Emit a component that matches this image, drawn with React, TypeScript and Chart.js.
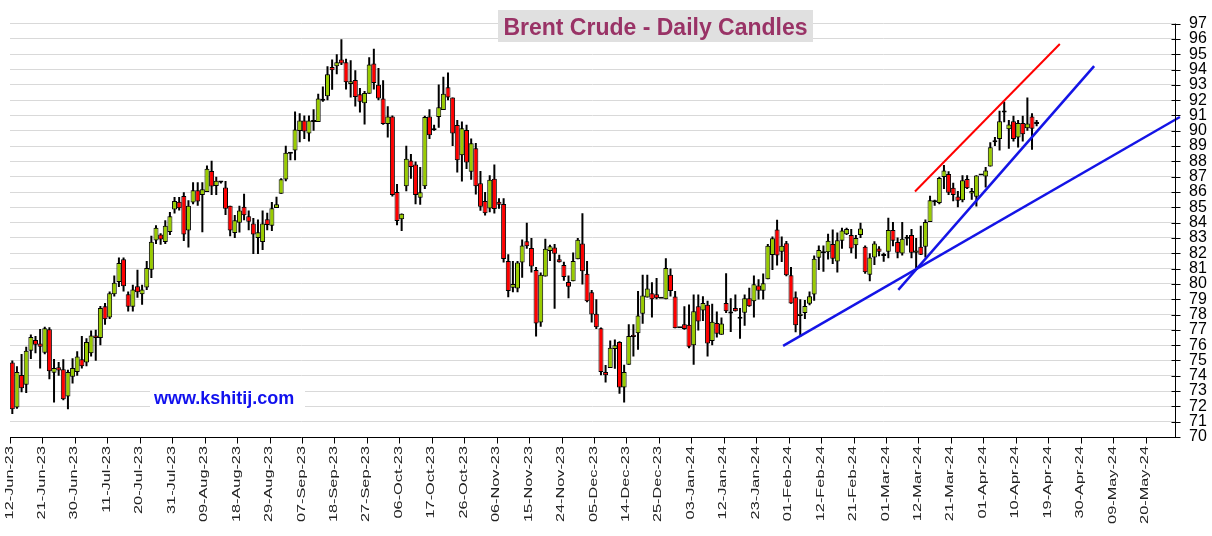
import React, { useEffect, useRef } from "react";
import { Chart, registerables } from "chart.js";

Chart.register(...registerables);

// X-axis labels, one every 7 trading days starting at slot 0
const TICK_LABELS = [
  "12-Jun-23", "21-Jun-23", "30-Jun-23", "11-Jul-23", "20-Jul-23", "31-Jul-23",
  "09-Aug-23", "18-Aug-23", "29-Aug-23", "07-Sep-23", "18-Sep-23", "27-Sep-23",
  "06-Oct-23", "17-Oct-23", "26-Oct-23", "06-Nov-23", "15-Nov-23", "24-Nov-23",
  "05-Dec-23", "14-Dec-23", "25-Dec-23", "03-Jan-24", "12-Jan-24", "23-Jan-24",
  "01-Feb-24", "12-Feb-24", "21-Feb-24", "01-Mar-24", "12-Mar-24", "21-Mar-24",
  "01-Apr-24", "10-Apr-24", "19-Apr-24", "30-Apr-24", "09-May-24", "20-May-24",
];
const TICK_STEP = 7;
const X_MAX = 251.35; // trading-day slots shown on the axis

const OPEN = [
  74.87, 71.93, 74.05, 73.41, 75.64, 76.33, 76.1, 75.5, 77.03, 74.2,
  74.55, 74.43, 72.65, 73.94, 74.24, 75.08, 74.87, 75.47, 76.63, 76.46,
  78.54, 77.8, 79.32, 80.13, 81.61, 79.32, 78.5, 79.85, 79.32, 79.77,
  80.93, 82.84, 83.22, 82.74, 83.39, 84.86, 85.36, 85.74, 83.49, 85.32,
  86.11, 85.8, 86.0, 87.37, 86.39, 86.62, 86.3, 85.1, 83.32, 84.0,
  85.04, 84.42, 83.95, 83.0, 82.74, 84.22, 83.79, 84.96, 85.88, 86.81,
  88.5, 88.72, 89.99, 90.67, 89.82, 90.58, 90.58, 91.96, 92.25, 94.16,
  94.22, 94.65, 94.48, 93.06, 93.31, 92.38, 91.79, 92.42, 94.39, 93.0,
  92.1, 90.45, 90.94, 86.0, 84.22, 86.37, 88.06, 87.79, 85.63, 86.37,
  90.94, 90.03, 90.9, 91.36, 92.85, 92.17, 90.37, 88.4, 90.05, 87.32,
  88.86, 86.58, 85.42, 84.93, 86.86, 85.36, 85.21, 81.5, 79.75, 79.7,
  81.4, 82.78, 82.35, 80.9, 77.48, 80.49, 82.14, 82.37, 81.61, 81.23,
  80.13, 80.17, 81.61, 82.63, 80.66, 79.45, 78.05, 77.1, 74.24, 74.51,
  75.74, 76.2, 73.24, 74.72, 76.67, 76.78, 78.05, 79.11, 79.39, 79.32,
  79.03, 79.0, 80.6, 79.17, 77.1, 77.37, 77.33, 75.99, 78.54, 78.26,
  78.64, 76.27, 77.44, 76.67, 78.75, 78.07, 78.43, 77.73, 78.11, 79.07,
  78.86, 79.9, 79.55, 80.3, 81.89, 83.55, 82.1, 82.66, 80.57, 79.13,
  77.9, 78.1, 78.7, 79.3, 81.7, 82.0, 82.06, 82.6, 81.47, 82.81,
  83.24, 83.2, 82.52, 83.2, 82.42, 80.6, 81.72, 82.31, 81.82, 82.1,
  83.52, 82.73, 81.99, 82.94, 83.2, 82.03, 82.42, 82.42, 84.05, 85.33,
  85.28, 86.98, 87.17, 86.28, 85.7, 85.47, 86.85, 85.9, 85.69, 87.08,
  87.02, 87.66, 89.25, 89.46, 91.2, 90.1, 90.62, 89.56, 90.51, 90.16,
  90.94, 90.45,
];
const HIGH = [
  75.0, 74.62, 75.42, 75.9, 76.7, 76.6, 77.06, 77.2, 77.16, 75.1,
  74.9, 75.08, 74.4, 75.15, 75.6, 76.6, 76.45, 76.95, 77.0, 78.55,
  78.75, 79.5, 80.55, 81.72, 81.72, 79.5, 79.95, 80.93, 79.95, 81.5,
  83.14, 83.83, 83.3, 84.16, 84.69, 85.67, 85.67, 85.99, 85.46, 86.64,
  86.64, 86.64, 87.73, 88.04, 87.0, 86.65, 86.72, 85.1, 84.5, 85.1,
  85.88, 84.8, 84.3, 84.2, 84.8, 84.65, 85.35, 85.69, 86.9, 89.03,
  88.6, 91.26, 91.15, 91.0, 91.0, 91.4, 92.42, 92.9, 94.22, 94.65,
  95.0, 95.98, 94.7, 94.6, 93.95, 92.8, 92.6, 94.8, 95.35, 94.1,
  93.3, 91.6, 91.0, 86.52, 84.6, 89.03, 88.49, 88.0, 87.64, 90.98,
  91.4, 90.4, 93.02, 93.53, 93.8, 92.17, 90.7, 90.6, 90.4, 89.5,
  89.2, 87.37, 86.0, 87.1, 87.79, 85.6, 85.6, 81.93, 81.5, 81.5,
  82.9, 84.0, 83.0, 81.1, 80.75, 82.95, 82.55, 82.6, 81.9, 81.45,
  80.55, 82.05, 83.0, 84.62, 81.5, 79.6, 79.0, 77.15, 74.7, 76.31,
  76.36, 76.25, 74.72, 77.37, 77.37, 79.53, 80.6, 80.6, 80.1, 80.38,
  79.03, 81.67, 81.0, 79.53, 77.1, 78.54, 78.65, 79.3, 79.3, 79.2,
  78.9, 78.7, 78.2, 77.8, 80.7, 79.07, 79.3, 78.43, 79.3, 79.75,
  80.55, 80.3, 80.68, 82.6, 83.1, 84.19, 83.1, 82.8, 81.1, 79.51,
  79.0, 78.95, 79.5, 81.86, 82.5, 82.5, 83.28, 83.55, 83.35, 83.66,
  83.66, 83.58, 83.2, 84.0, 82.5, 82.0, 82.78, 82.46, 82.03, 84.32,
  84.05, 83.03, 84.05, 83.2, 83.58, 83.0, 83.8, 84.2, 85.75, 85.5,
  87.0, 87.76, 87.35, 86.6, 86.06, 87.1, 87.1, 86.27, 87.1, 87.08,
  87.63, 89.25, 89.6, 91.3, 91.9, 90.7, 90.98, 90.7, 90.98, 92.17,
  91.15, 90.7,
];
const LOW = [
  71.5, 71.85, 72.92, 72.88, 75.1, 75.47, 74.47, 75.4, 73.77, 72.25,
  74.0, 72.4, 71.82, 73.5, 74.0, 74.47, 74.62, 75.25, 74.98, 76.0,
  77.33, 77.7, 79.17, 79.8, 79.5, 78.2, 78.2, 79.1, 78.64, 79.6,
  80.38, 82.6, 82.56, 82.6, 83.2, 84.6, 84.8, 82.8, 82.38, 85.2,
  85.1, 83.37, 86.0, 85.8, 85.8, 86.55, 84.5, 83.11, 83.0, 83.35,
  84.16, 83.5, 81.96, 81.96, 82.21, 83.5, 83.45, 84.96, 85.88, 86.7,
  88.08, 88.08, 89.25, 89.46, 89.3, 90.0, 90.58, 91.9, 92.0, 92.68,
  93.7, 94.3, 92.7, 92.17, 91.58, 91.2, 90.41, 92.42, 92.7, 92.0,
  90.4, 89.56, 85.7, 83.83, 83.45, 86.05, 86.86, 85.2, 85.17, 86.2,
  89.46, 90.0, 90.2, 91.36, 92.0, 89.0, 87.28, 86.69, 87.5, 86.8,
  85.84, 84.78, 84.47, 84.68, 84.6, 84.9, 81.4, 79.12, 79.45, 79.45,
  80.4, 82.3, 80.75, 76.57, 77.2, 80.49, 81.5, 78.37, 81.4, 80.2,
  79.07, 80.17, 81.61, 79.96, 78.8, 77.48, 77.05, 74.03, 73.56, 74.51,
  74.45, 72.82, 72.25, 74.72, 75.25, 75.7, 77.4, 79.11, 77.8, 79.0,
  79.03, 79.0, 79.17, 77.1, 77.1, 77.0, 75.8, 74.72, 76.95, 77.58,
  75.25, 76.0, 76.5, 76.67, 78.1, 76.85, 78.2, 76.42, 77.27, 78.5,
  77.8, 78.98, 78.98, 80.3, 80.9, 81.2, 81.43, 80.5, 78.7, 76.84,
  76.53, 77.7, 78.6, 78.9, 80.9, 80.8, 81.6, 81.3, 80.74, 82.3,
  83.2, 82.0, 81.65, 83.0, 80.66, 80.17, 81.23, 81.8, 81.45, 81.68,
  82.46, 81.68, 81.86, 82.5, 81.68, 80.97, 81.89, 81.72, 84.05, 85.1,
  85.2, 86.2, 85.8, 85.4, 85.0, 85.33, 86.2, 85.5, 85.05, 87.08,
  86.3, 87.66, 89.0, 88.72, 90.56, 88.82, 89.3, 88.9, 89.3, 90.0,
  88.76, 90.3,
];
const CLOSE = [
  71.82, 74.24, 73.18, 75.64, 76.53, 76.02, 75.9, 77.1, 74.3, 74.5,
  74.34, 72.46, 74.24, 74.5, 75.25, 74.62, 76.21, 76.63, 76.46, 78.43,
  77.69, 79.39, 80.08, 81.36, 79.85, 78.5, 79.64, 79.45, 79.64, 81.04,
  82.75, 83.66, 82.9, 83.79, 84.41, 85.42, 84.94, 83.22, 85.11, 86.11,
  85.38, 86.18, 87.52, 86.36, 86.74, 86.62, 84.9, 83.49, 84.16, 84.79,
  84.48, 84.06, 83.22, 83.37, 83.95, 83.85, 84.94, 85.2, 86.83, 88.57,
  88.5, 90.09, 90.67, 89.95, 90.67, 90.63, 92.1, 91.96, 93.69, 93.95,
  94.48, 94.39, 93.17, 93.23, 92.21, 91.89, 92.47, 94.33, 93.12, 92.1,
  90.45, 90.94, 85.81, 84.11, 84.58, 88.17, 87.64, 85.8, 85.99, 90.9,
  89.71, 90.03, 91.53, 92.42, 92.17, 89.82, 88.08, 90.16, 87.92, 89.18,
  86.37, 85.04, 84.62, 86.8, 84.89, 85.17, 81.62, 79.54, 80.0, 81.4,
  82.5, 82.46, 81.14, 77.42, 80.6, 82.3, 82.46, 81.97, 81.42, 80.45,
  79.81, 81.5, 82.88, 80.83, 78.86, 78.0, 77.16, 74.24, 74.03, 75.83,
  76.0, 73.24, 74.24, 76.59, 76.53, 77.94, 79.24, 79.7, 79.0, 79.07,
  79.03, 81.04, 79.53, 77.1, 77.1, 77.05, 75.89, 78.22, 77.54, 78.75,
  76.1, 77.52, 76.74, 77.42, 78.22, 78.07, 78.22, 77.84, 79.07, 78.54,
  79.98, 79.55, 80.04, 82.49, 82.98, 81.85, 82.49, 80.57, 78.72, 77.3,
  78.05, 78.55, 79.2, 81.64, 82.21, 82.0, 82.81, 81.64, 82.85, 83.49,
  83.58, 82.31, 82.99, 83.62, 80.76, 81.72, 82.63, 82.1, 81.82, 83.52,
  82.82, 82.03, 82.94, 82.94, 82.03, 82.18, 81.9, 84.05, 85.47, 85.4,
  86.92, 87.4, 85.96, 85.81, 85.43, 86.77, 86.24, 86.07, 87.08, 87.08,
  87.4, 88.93, 89.36, 90.62, 91.2, 90.41, 89.46, 90.51, 89.78, 90.47,
  90.14, 90.58,
];

// Hand-drawn trend lines (x in trading-day slots, y in USD)
const RED_LINE = [{ x: 195.25, y: 86.03 }, { x: 226.5, y: 95.67 }];
const BLUE_STEEP = [{ x: 191.65, y: 79.61 }, { x: 233.9, y: 94.22 }];
const BLUE_SHALLOW = [{ x: 166.8, y: 75.95 }, { x: 252.4, y: 90.9 }];

const TITLE = "Brent Crude - Daily Candles";
const WATERMARK = "www.kshitij.com";
const Y_MIN = 70;
const Y_MAX = 97;

const FONT = "'Liberation Sans', Arial, Helvetica, sans-serif";
const UP = "#99cc00";
const DOWN = "#ff0000";

const decorPlugin = {
  id: "decor",
  beforeDatasetsDraw(chart: any) {
    const ctx = chart.ctx;
    ctx.save();
    ctx.fillStyle = "#e0e0e0";
    ctx.fillRect(498, 10, 315, 32);
    ctx.font = `bold 23px ${FONT}`;
    ctx.fillStyle = "#993366";
    ctx.textAlign = "center";
    ctx.textBaseline = "alphabetic";
    ctx.fillText(TITLE, 655.5, 35);

    ctx.fillStyle = "#ffffff";
    ctx.fillRect(150, 385, 155, 25);
    ctx.font = `bold 18px ${FONT}`;
    ctx.fillStyle = "#1111ee";
    ctx.textAlign = "left";
    ctx.fillText(WATERMARK, 154, 403.5);
    ctx.restore();
  },
  afterDraw(chart: any) {
    const { ctx, chartArea: a } = chart;
    const xs = chart.scales.x;
    const ys = chart.scales.y;
    ctx.save();
    ctx.strokeStyle = "#000";
    ctx.lineWidth = 1;
    ctx.beginPath();
    const by = Math.round(a.bottom) + 0.5;
    const rx = Math.round(a.right) + 0.5;
    ctx.moveTo(a.left, by);
    ctx.lineTo(rx, by);
    ctx.moveTo(rx, a.top);
    ctx.lineTo(rx, by);
    for (let v = Y_MIN; v <= Y_MAX; v++) {
      const py = Math.round(ys.getPixelForValue(v)) + 0.5;
      ctx.moveTo(rx - 4, py);
      ctx.lineTo(rx + 5, py);
    }
    TICK_LABELS.forEach((_, i) => {
      const px = Math.round(xs.getPixelForValue(i * TICK_STEP)) + 0.5;
      ctx.moveTo(px, by);
      ctx.lineTo(px, by + 6);
    });
    ctx.stroke();

    ctx.fillStyle = "#222";
    ctx.font = `10px ${FONT}`;
    ctx.textAlign = "right";
    ctx.textBaseline = "alphabetic";
    TICK_LABELS.forEach((lab, i) => {
      const px = xs.getPixelForValue(i * TICK_STEP);
      ctx.save();
      ctx.translate(px + 2.5, a.bottom + 9);
      ctx.rotate(-Math.PI / 2);
      ctx.scale(1.63, 1);
      ctx.fillText(lab, 0, 0);
      ctx.restore();
    });
    ctx.restore();
  },
};

export default function App() {
  const canvasRef = useRef<HTMLCanvasElement | null>(null);

  useEffect(() => {
    const canvas = canvasRef.current;
    if (!canvas) return;

    const bodies = OPEN.map((o, i) => ({ x: i + 0.5, y: [o, CLOSE[i]] }));
    const wicks = LOW.map((l, i) => ({ x: i + 0.5, y: [l, HIGH[i]] }));
    const bodyColors = OPEN.map((o, i) => (CLOSE[i] >= o ? UP : DOWN));

    const chart = new Chart(canvas, {
      type: "bar",
      data: {
        datasets: [
          {
            type: "line",
            data: RED_LINE,
            borderColor: "#ff0000",
            borderWidth: 2,
            pointRadius: 0,
            tension: 0,
            clip: false,
            order: 0,
          } as any,
          {
            type: "line",
            data: BLUE_STEEP,
            borderColor: "#1414e6",
            borderWidth: 2.5,
            pointRadius: 0,
            tension: 0,
            clip: false,
            order: 0,
          } as any,
          {
            type: "line",
            data: BLUE_SHALLOW,
            borderColor: "#1414e6",
            borderWidth: 2.5,
            pointRadius: 0,
            tension: 0,
            clip: false,
            order: 0,
          } as any,
          {
            type: "bar",
            data: bodies,
            backgroundColor: bodyColors,
            borderColor: "#000",
            borderWidth: 1,
            borderSkipped: false,
            barThickness: 5,
            minBarLength: 2,
            grouped: false,
            inflateAmount: 0,
            order: 1,
          } as any,
          {
            type: "bar",
            data: wicks,
            backgroundColor: "#000",
            borderWidth: 0,
            barThickness: 2,
            grouped: false,
            inflateAmount: 0,
            order: 2,
          } as any,
        ],
      },
      options: {
        animation: false,
        responsive: false,
        events: [],
        layout: { padding: { left: 10, top: 11, right: 0, bottom: 0 } },
        plugins: {
          legend: { display: false },
          tooltip: { enabled: false },
          title: { display: false },
        },
        scales: {
          x: {
            type: "linear",
            min: 0,
            max: X_MAX,
            offset: false,
            grid: { display: false },
            border: { display: false },
            ticks: { display: false },
            afterFit: (s: any) => {
              s.height = 99;
            },
          },
          y: {
            type: "linear",
            position: "right",
            min: Y_MIN,
            max: Y_MAX,
            grid: { color: "#d9d9d9", lineWidth: 1, drawTicks: false },
            border: { display: false },
            ticks: {
              stepSize: 1,
              autoSkip: false,
              padding: 14,
              color: "#000",
              font: { family: FONT, size: 16 },
            },
            afterFit: (s: any) => {
              s.width = 37;
            },
          },
        },
      } as any,
      plugins: [decorPlugin],
    });

    return () => chart.destroy();
  }, []);

  return (
    <div
      style={{
        position: "absolute",
        left: 0,
        top: 0,
        width: 1212,
        height: 536,
        background: "#fff",
      }}
    >
      <canvas ref={canvasRef} width={1212} height={536} />
    </div>
  );
}
